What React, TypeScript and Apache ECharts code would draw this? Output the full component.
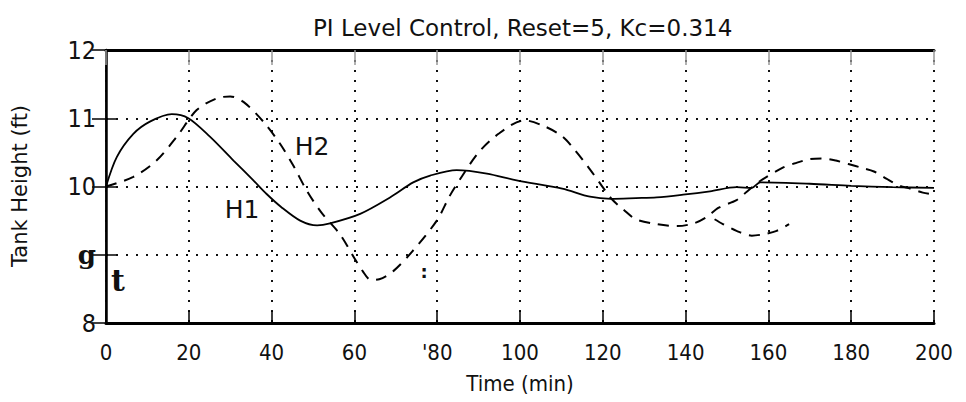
import React, { useEffect, useRef } from "react";
import * as echarts from "echarts";

// Time (min) and tank heights (ft)
const h1Time = [0, 2.6, 6.6, 10.6, 15.9, 19.9, 25.1, 30.8, 35.6, 38.8, 42.3, 46.9, 51, 54.1, 61.4, 68.6, 74.2, 78.3, 84.7, 92, 99.2, 110.2, 116.9, 122, 128, 133, 139.4, 145.9, 152.3, 156, 158, 170, 180, 190, 200];
const h1Height = [10.0, 10.43, 10.77, 10.95, 11.06, 11.0, 10.73, 10.38, 10.09, 9.89, 9.7, 9.5, 9.43, 9.46, 9.6, 9.84, 10.06, 10.16, 10.24, 10.19, 10.09, 9.97, 9.85, 9.82, 9.83, 9.84, 9.88, 9.93, 9.99, 9.98, 10.06, 10.04, 10.01, 9.99, 9.98];

const h2Time = [0, 6.6, 12.2, 17.1, 21.9, 26.7, 30, 33.2, 38, 42, 45.2, 48.5, 52, 56.5, 60, 62, 64, 66, 69.4, 74, 79.9, 83.1, 86, 90, 95, 101, 106, 110.3, 113.3, 116.3, 119.3, 122.1, 125, 128, 133, 138, 142, 145, 148, 152.3, 154.7, 158, 163.6, 166.4, 169.9, 172.9, 176.3, 179.3, 182.8, 185.5, 188.6, 191.8, 194.2, 197.3, 200];
const h2Height = [10.0, 10.14, 10.38, 10.73, 11.12, 11.29, 11.32, 11.24, 10.95, 10.63, 10.31, 9.94, 9.62, 9.3, 8.95, 8.76, 8.63, 8.64, 8.76, 9.05, 9.5, 9.87, 10.15, 10.5, 10.78, 10.97, 10.88, 10.73, 10.53, 10.3, 10.05, 9.82, 9.66, 9.52, 9.45, 9.42, 9.46, 9.55, 9.69, 9.8, 9.92, 10.08, 10.28, 10.34, 10.4, 10.41, 10.38, 10.33, 10.27, 10.22, 10.11, 10.01, 9.97, 9.91, 9.88];

// second dashed trace of H2 visible below the curve near t = 150-165
const h2LoopTime = [147, 149, 152.3, 156, 158.8, 162, 165];
const h2LoopHeight = [9.52, 9.45, 9.35, 9.28, 9.3, 9.35, 9.45];

const xTickLabels = ["0", "20", "40", "60", "'80", "100", "120", "140", "160", "180", "200"];
const yTickLabels = ["8", "g", "10", "11", "12"];

const pairs = (xs: number[], ys: number[]) => xs.map((x, i) => [x, ys[i]]);

export default function App() {
  const ref = useRef<HTMLDivElement>(null);
  useEffect(() => {
    if (!ref.current) return;
    const chart = echarts.init(ref.current, null, { renderer: "svg" });
    const dotted = { color: "#111", width: 2, type: [2, 8] as number[] };
    const narrow = "'Liberation Sans Narrow', 'DejaVu Sans Condensed', sans-serif";
    chart.setOption({
      animation: false,
      backgroundColor: "#fff",
      title: {
        text: "PI Level Control, Reset=5, Kc=0.314",
        left: 308,
        top: 11,
        textStyle: { fontFamily: "'DejaVu Sans', sans-serif", fontSize: 23, fontWeight: "normal", color: "#111" },
      },
      grid: { left: 106, right: 32, top: 50, bottom: 79 },
      xAxis: [
        {
          type: "value",
          min: 0,
          max: 200,
          interval: 20,
          position: "bottom",
          name: "Time (min)",
          nameLocation: "middle",
          nameGap: 49,
          nameTextStyle: { fontFamily: "'DejaVu Sans Condensed', sans-serif", fontSize: 22, color: "#111" },
          axisLine: { show: true, lineStyle: { color: "#000", width: 3 } },
          axisTick: { show: true, inside: true, length: 12, lineStyle: { color: "#000", width: 1.5 } },
          axisLabel: {
            margin: 18,
            fontFamily: "'DejaVu Sans Condensed', sans-serif",
            fontSize: 22,
            color: "#111",
            formatter: (v: number) => xTickLabels[Math.round(v / 20)] ?? "",
          },
          splitLine: { show: true, lineStyle: dotted },
        },
        {
          type: "value",
          min: 0,
          max: 200,
          interval: 20,
          position: "top",
          axisLine: { show: true, lineStyle: { color: "#000", width: 3 } },
          axisTick: { show: true, inside: true, length: 15, lineStyle: { color: "#999", width: 1.5 } },
          axisLabel: { show: false },
          splitLine: { show: false },
        },
      ],
      yAxis: [
        {
          type: "value",
          min: 8,
          max: 12,
          interval: 1,
          position: "left",
          axisLine: { show: true, lineStyle: { color: "#000", width: 1.5 } },
          axisTick: { show: true, inside: true, length: 10, lineStyle: { color: "#000", width: 1.5 } },
          axisLabel: {
            margin: 10,
            fontFamily: narrow,
            fontSize: 25,
            color: "#111",
            formatter: (v: number) => {
              const s = yTickLabels[Math.round(v - 8)] ?? "";
              return s === "g" ? "{g|g}" : s;
            },
            rich: { g: { fontFamily: "'DejaVu Serif', serif", fontWeight: "bold", fontSize: 26, color: "#111" } },
          },
          splitLine: { show: true, lineStyle: dotted },
        },
        {
          type: "value",
          min: 8,
          max: 12,
          interval: 1,
          position: "right",
          axisLine: { show: true, lineStyle: { color: "#000", width: 2.5 } },
          axisTick: { show: true, inside: true, length: 14, lineStyle: { color: "#000", width: 1.5 } },
          axisLabel: { show: false },
          splitLine: { show: false },
        },
      ],
      series: [
        {
          name: "H1",
          type: "line",
          data: pairs(h1Time, h1Height),
          showSymbol: false,
          smooth: 0.3,
          lineStyle: { color: "#000", width: 1.8, type: "solid" },
        },
        {
          name: "H2",
          type: "line",
          data: pairs(h2Time, h2Height),
          showSymbol: false,
          smooth: 0.3,
          lineStyle: { color: "#000", width: 2, type: [11, 8] },
        },
        {
          name: "H2 trace",
          type: "line",
          data: pairs(h2LoopTime, h2LoopHeight),
          showSymbol: false,
          smooth: 0.3,
          lineStyle: { color: "#000", width: 2, type: [11, 8] },
        },
      ],
      graphic: [
        {
          type: "text",
          x: 20,
          y: 186,
          rotation: Math.PI / 2,
          style: { text: "Tank Height (ft)", fontFamily: "'DejaVu Sans', sans-serif", fontSize: 21, fill: "#111", align: "center", verticalAlign: "middle" },
        },
        {
          type: "text",
          x: 312,
          y: 146,
          style: { text: "H2", fontFamily: "'DejaVu Sans', sans-serif", fontSize: 25, fill: "#111", align: "center", verticalAlign: "middle" },
        },
        {
          type: "text",
          x: 242,
          y: 209,
          style: { text: "H1", fontFamily: "'DejaVu Sans', sans-serif", fontSize: 25, fill: "#111", align: "center", verticalAlign: "middle" },
        },
        {
          type: "text",
          x: 118,
          y: 280,
          style: { text: "t", fontFamily: "'DejaVu Serif', serif", fontWeight: "bold", fontSize: 30, fill: "#111", align: "center", verticalAlign: "middle" },
        },
        {
          type: "text",
          x: 424,
          y: 271,
          style: { text: ":", fontFamily: "'DejaVu Sans', sans-serif", fontWeight: "bold", fontSize: 18, fill: "#111", align: "center", verticalAlign: "middle" },
        },
      ],
    });
    return () => chart.dispose();
  }, []);
  return <div ref={ref} style={{ position: "fixed", left: 0, top: 0, width: 966, height: 402 }} />;
}
